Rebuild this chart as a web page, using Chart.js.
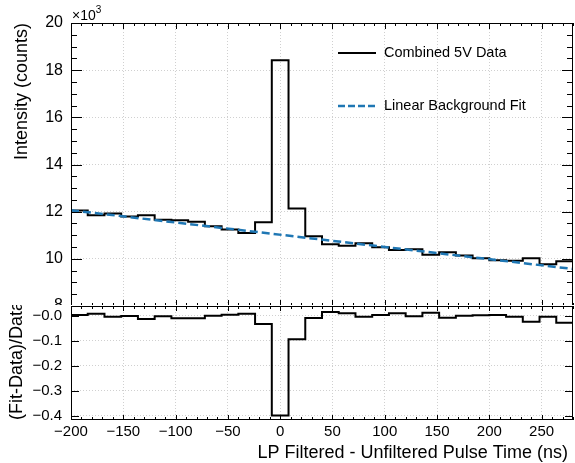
<!DOCTYPE html>
<html>
<head>
<meta charset="utf-8">
<script src="https://cdn.jsdelivr.net/npm/chart.js@4.4.0/dist/chart.umd.min.js"></script>
<style>
  body { margin: 0; background: #fff; }
  #wrap { position: relative; width: 575px; height: 463px; }
  canvas { position: absolute; left: 0; }
  #top { top: 0; }
  #bottom { top: 305px; background: #fff; }
</style>
</head>
<body>
<div id="wrap">
  <canvas id="top" width="575" height="307"></canvas>
  <canvas id="bottom" width="575" height="158"></canvas>
</div>
<script>
// bin edges (ns)
const binEdges = [-200, -184, -168, -152, -136, -120, -104, -88, -72, -56, -40, -24, -8, 8, 24,
                  40, 56, 72, 88, 104, 120, 136, 152, 168, 184, 200, 216, 232, 248, 264, 280];
// counts per bin, in units of 10^3
const counts = [12.05, 11.85, 11.92, 11.80, 11.85, 11.66, 11.64, 11.57, 11.38, 11.24, 11.10, 11.55,
                18.42, 12.13, 10.96, 10.62, 10.56, 10.66, 10.49, 10.37, 10.41, 10.17, 10.28, 10.14,
                10.03, 9.94, 9.92, 10.03, 9.77, 9.90];
// (Fit-Data)/Data per bin
const residuals = [0.004, 0.009, -0.003, 0.000, -0.012, -0.001, -0.009, -0.009, 0.001, 0.005, 0.009, -0.032,
                   -0.400, -0.094, -0.008, 0.016, 0.011, -0.003, 0.004, 0.011, -0.001, 0.013, -0.007, 0.001,
                   0.003, 0.004, -0.003, -0.023, -0.003, -0.027];
// linear background fit end points
const fitX = [-200, 280];
const fitY = [12.06, 9.57];

const xTicks = [-200, -150, -100, -50, 0, 50, 100, 150, 200, 250];
const yTicksTop = [8, 10, 12, 14, 16, 18, 20];
const yTicksBottom = [0, -0.1, -0.2, -0.3, -0.4];

const FONT = "'Liberation Sans', Arial, Helvetica, sans-serif";
const GRID = '#d0d0d0';
const BLUE = '#1f77b4';

// histograma escalonado: un punto por borde izquierdo + el borde final
function stepPoints(vals) {
    const pts = vals.map((v, i) => ({ x: binEdges[i], y: v }));
    pts.push({ x: binEdges[binEdges.length - 1], y: vals[vals.length - 1] });
    return pts;
}

const minus = s => String(s).replace('-', '\u2212');

// quita el relleno automatico que Chart.js reserva para las etiquetas extremas
function fixSize(s, w, h) {
    if (w !== null) s.width = w;
    if (h !== null) s.height = h;
    s.paddingTop = 0; s.paddingBottom = 0;
    s.paddingLeft = 0; s.paddingRight = 0;
}

// marco y marcas interiores estilo ROOT, mas textos
const framePlugin = {
    id: 'frame',
    afterDraw(chart, args, opts) {
        const { ctx, chartArea: a, scales: { x, y } } = chart;
        ctx.save();
        ctx.strokeStyle = '#000';
        ctx.lineWidth = 1;
        ctx.beginPath();
        for (let v = -200; v <= 280; v += 10) {
            const px = Math.round(x.getPixelForValue(v)) + 0.5;
            const len = xTicks.includes(v) ? opts.xMajor : opts.xMinor;
            ctx.moveTo(px, a.top); ctx.lineTo(px, a.top + len);
            ctx.moveTo(px, a.bottom); ctx.lineTo(px, a.bottom - len);
        }
        opts.yMarks.forEach(m => {
            const py = Math.round(y.getPixelForValue(m.v)) + 0.5;
            ctx.moveTo(a.left, py); ctx.lineTo(a.left + m.len, py);
            ctx.moveTo(a.right, py); ctx.lineTo(a.right - m.len, py);
        });
        ctx.stroke();
        ctx.strokeRect(a.left + 0.5, a.top + 0.5, a.right - a.left - 1, a.bottom - a.top - 1);

        ctx.fillStyle = '#000';
        (opts.texts || []).forEach(t => {
            ctx.save();
            ctx.font = t.size + 'px ' + FONT;
            ctx.textAlign = t.align;
            ctx.textBaseline = t.baseline || 'middle';
            ctx.translate(t.x, t.y);
            if (t.rot) ctx.rotate(-Math.PI / 2);
            ctx.fillText(t.text, 0, 0);
            ctx.restore();
        });
        if (opts.extra) opts.extra(ctx);
        ctx.restore();
    }
};

const topMarks = [];
for (let k = 16; k <= 40; k++) {
    const v = k / 2;
    topMarks.push({ v: v, len: yTicksTop.includes(v) ? 11 : 6 });
}
const bottomMarks = yTicksBottom.map(v => ({ v: v, len: 8 }));

function xScale(showLabels, h) {
    return {
        type: 'linear', min: -200, max: 280,
        afterBuildTicks: s => { s.ticks = xTicks.map(v => ({ value: v })); },
        afterFit: s => fixSize(s, null, h),
        ticks: {
            display: showLabels, color: '#000', padding: 3,
            font: { family: FONT, size: 15 },
            callback: v => minus(v)
        },
        grid: { color: GRID, drawTicks: false },
        border: { display: false, dash: [1, 2] }
    };
}

// Grafico superior: datos y ajuste
new Chart(document.getElementById('top').getContext('2d'), {
    type: 'line',
    data: {
        datasets: [{
            label: 'Combined 5V Data',
            data: stepPoints(counts),
            stepped: 'before',
            order: 1,
            borderColor: '#000', borderWidth: 2,
            pointRadius: 0, fill: false
        }, {
            label: 'Linear Background Fit',
            data: fitX.map((v, i) => ({ x: v, y: fitY[i] })),
            order: 0,
            borderColor: BLUE, borderWidth: 2.5, borderDash: [8, 4],
            pointRadius: 0, fill: false
        }]
    },
    options: {
        responsive: false,
        animation: false,
        layout: { autoPadding: false, padding: { top: 23, right: 2, bottom: 1, left: 0 } },
        plugins: {
            legend: { display: false },
            tooltip: { enabled: false },
            frame: {
                xMajor: 6, xMinor: 3, yMarks: topMarks,
                texts: [
                    { text: 'Intensity (counts)', x: 22, y: 23, size: 18, align: 'right', rot: true },
                    { text: 'Combined 5V Data', x: 384, y: 53, size: 14.5, align: 'left' },
                    { text: 'Linear Background Fit', x: 384, y: 106, size: 14.5, align: 'left' }
                ],
                extra: ctx => {
                    ctx.font = '14px ' + FONT;
                    ctx.textAlign = 'left';
                    ctx.textBaseline = 'alphabetic';
                    ctx.fillText('\u00d710', 72, 20);
                    const w = ctx.measureText('\u00d710').width;
                    ctx.font = '10px ' + FONT;
                    ctx.fillText('3', 72 + w, 13);
                    ctx.lineWidth = 2;
                    ctx.strokeStyle = '#000';
                    ctx.beginPath(); ctx.moveTo(338, 53); ctx.lineTo(376, 53); ctx.stroke();
                    ctx.lineWidth = 2.5;
                    ctx.strokeStyle = BLUE;
                    ctx.setLineDash([7, 3]);
                    ctx.beginPath(); ctx.moveTo(338, 106); ctx.lineTo(376, 106); ctx.stroke();
                    ctx.setLineDash([]);
                }
            }
        },
        scales: {
            x: xScale(false, 0),
            y: {
                min: 8, max: 20,
                afterBuildTicks: s => { s.ticks = yTicksTop.map(v => ({ value: v })); },
                afterFit: s => fixSize(s, 71, null),
                ticks: { color: '#000', padding: 8, font: { family: FONT, size: 16 } },
                grid: { color: GRID, drawTicks: false },
                border: { display: false, dash: [1, 2] }
            }
        }
    },
    plugins: [framePlugin]
});

// Grafico inferior: residuos
new Chart(document.getElementById('bottom').getContext('2d'), {
    type: 'line',
    data: {
        datasets: [{
            label: '(Fit-Data)/Data',
            data: stepPoints(residuals),
            stepped: 'before',
            borderColor: '#000', borderWidth: 2,
            pointRadius: 0, fill: false
        }]
    },
    options: {
        responsive: false,
        animation: false,
        layout: { autoPadding: false, padding: { top: 1, right: 2, bottom: 0, left: 0 } },
        plugins: {
            legend: { display: false },
            tooltip: { enabled: false },
            frame: {
                xMajor: 5, xMinor: 3, yMarks: bottomMarks,
                texts: [
                    { text: '(Fit-Data)/Data', x: 17, y: 115, size: 18, align: 'left', rot: true },
                    { text: 'LP Filtered - Unfiltered Pulse Time (ns)', x: 568, y: 148, size: 18, align: 'right' }
                ]
            }
        },
        scales: {
            x: xScale(true, 43),
            y: {
                min: -0.418, max: 0.04,
                afterBuildTicks: s => { s.ticks = yTicksBottom.map(v => ({ value: v })); },
                afterFit: s => fixSize(s, 71, null),
                ticks: {
                    color: '#000', padding: 9, font: { family: FONT, size: 15 },
                    callback: v => '\u2212' + Math.abs(v).toFixed(1)
                },
                grid: { color: GRID, drawTicks: false },
                border: { display: false, dash: [1, 2] }
            }
        }
    },
    plugins: [framePlugin]
});
</script>
</body>
</html>
